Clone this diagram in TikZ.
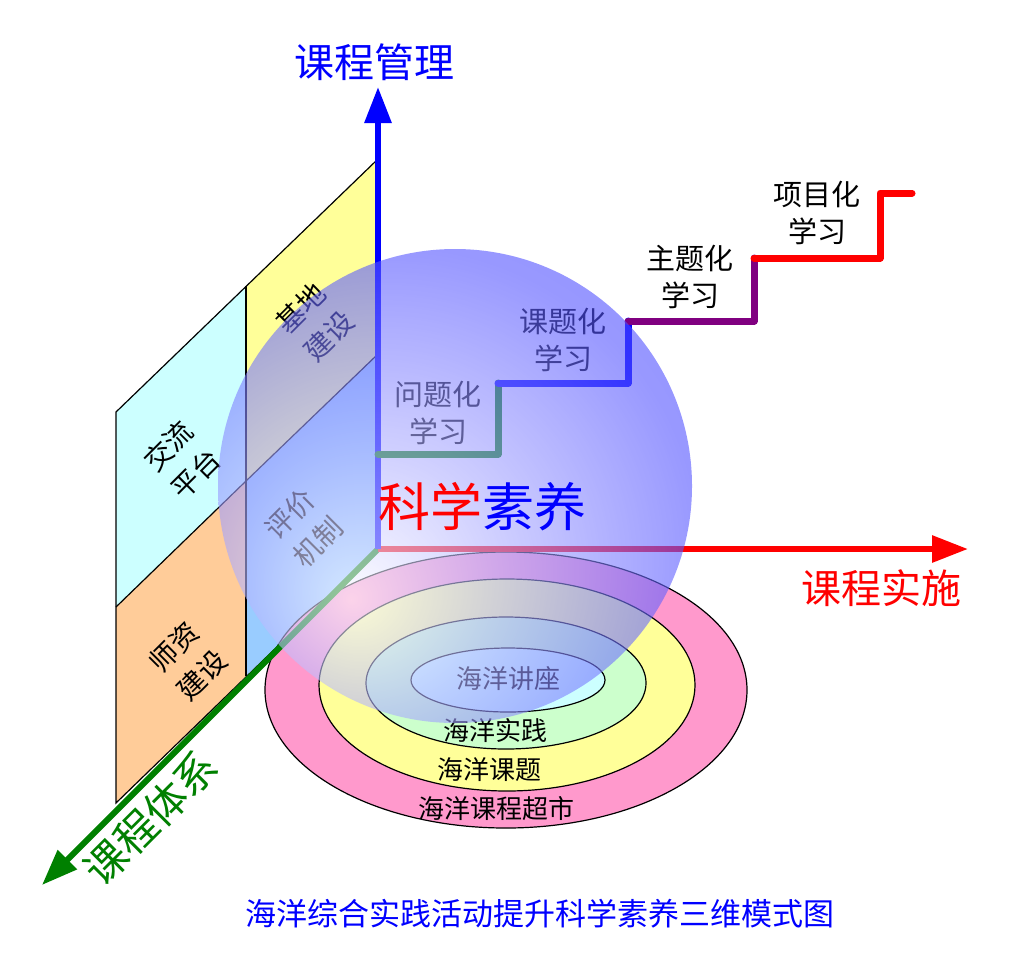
\documentclass[tikz,border=0pt]{standalone}
\usepackage{fontspec}
\setmainfont{Noto Sans CJK SC}
\usetikzlibrary{arrows.meta}
\definecolor{pyellow}{RGB}{255,255,153}
\definecolor{pcyan}{RGB}{204,255,255}
\definecolor{porange}{RGB}{255,204,153}
\definecolor{pblue}{RGB}{153,204,255}
\definecolor{rpink}{RGB}{255,153,204}
\definecolor{rgreen}{RGB}{204,255,204}
\definecolor{axgreen}{RGB}{0,128,0}
\definecolor{stpurple}{RGB}{128,0,128}
\definecolor{spA}{RGB}{250,250,255}
\definecolor{spB}{RGB}{180,180,255}
\definecolor{spC}{RGB}{85,85,255}
\definecolor{spD}{RGB}{45,45,255}
\pgfdeclareradialshading{spherebl}{\pgfpoint{-11bp}{-12bp}}{color(0bp)=(spA); color(13bp)=(spB); color(32bp)=(spC); color(52bp)=(spD); color(80bp)=(spD)}
\begin{document}
\begin{tikzpicture}[x=1pt,y=-1pt]
\tikzset{
  panel/.style={draw=black, line width=1.2pt},
  ring/.style={draw=black, line width=1.2pt},
  axisline/.style={line width=6pt, -{Triangle[length=36pt,width=26pt]}},
  stepline/.style={line width=7pt, line cap=round, line join=round},
  paneltext/.style={rotate=45, align=center, inner sep=0pt, font=\fontsize{28}{39}\selectfont},
  ringtext/.style={inner sep=0pt, font=\fontsize{26}{30}\selectfont},
  steptext/.style={align=center, inner sep=0pt, font=\fontsize{29}{37}\selectfont},
  axislabel/.style={inner sep=0pt, font=\fontsize{40}{44}\selectfont},
}
\useasboundingbox (0,0) rectangle (1024,967);
% panel corners
\coordinate (O) at (378,549);
\coordinate (A1) at (378,159);
\coordinate (B1) at (246,286);
\coordinate (C1) at (116,412);
\coordinate (A2) at (378,354);
\coordinate (B2) at (246,481);
\coordinate (C2) at (116,607);
\coordinate (B3) at (246,676);
\coordinate (C3) at (116,803);
% panels
\fill[pyellow] (A1) -- (A2) -- (B2) -- (B1) -- cycle;
\fill[pblue] (A2) -- (O) -- (B3) -- (B2) -- cycle;
\fill[pcyan] (B1) -- (B2) -- (C2) -- (C1) -- cycle;
\fill[porange] (B2) -- (B3) -- (C3) -- (C2) -- cycle;
\draw[panel] (A1) -- (C1) -- (C3) -- (O) -- cycle;
\draw[panel] (B1) -- (B3);
\draw[panel] (A2) -- (B2) -- (C2);
\node[paneltext] (jd) at (315,322) {基地\\建设};
\node[paneltext] (jl) at (182,460) {交流\\平台};
\node[paneltext] (pj) at (304,528) {评价\\机制};
\node[paneltext] (sz) at (188,661) {师资\\建设};
% rings
\draw[ring, fill=rpink] (506,690) ellipse [x radius=241, y radius=138];
\draw[ring, fill=pyellow] (507,685) ellipse [x radius=188, y radius=106];
\draw[ring, fill=rgreen] (506,683) ellipse [x radius=140, y radius=66];
\draw[ring, fill=pcyan] (508,680) ellipse [x radius=97, y radius=32];
\node[ringtext] (r1) at (508,679) {海洋讲座};
\node[ringtext] (r2) at (495,731) {海洋实践};
\node[ringtext] (r3) at (489,770) {海洋课题};
\node[ringtext] (r4) at (496,809) {海洋课程超市};
% axes
\coordinate (tipV) at (378,87);
\coordinate (tipH) at (968,549);
\coordinate (tipG) at (42,885);
\draw[axisline, axgreen] (O) -- (tipG);
\draw[axisline, red] (O) -- (tipH);
\draw[axisline, blue] (O) -- (tipV);
% steps
\coordinate (S0) at (378,454);
\coordinate (S1) at (498,454);
\coordinate (S2) at (498,383);
\coordinate (S3) at (628,383);
\coordinate (S4) at (628,321);
\coordinate (S5) at (754,321);
\coordinate (S6) at (754,258);
\coordinate (S7) at (880,258);
\coordinate (S8) at (880,193);
\coordinate (S9) at (912,193);
\draw[stepline, axgreen] (S0) -- (S1) -- (S2);
\draw[stepline, blue] (S2) -- (S3) -- (S4);
\draw[stepline, stpurple] (S4) -- (S5) -- (S6);
\draw[stepline, red] (S6) -- (S7) -- (S8) -- (S9);
\node[steptext] (t1) at (438,413) {问题化\\学习};
\node[steptext] (t2) at (563,340) {课题化\\学习};
\node[steptext] (t3) at (690,277) {主题化\\学习};
\node[steptext] (t4) at (817,213) {项目化\\学习};
% sphere
\shade[shading=spherebl, opacity=0.6] (455,486) circle [radius=237];
% labels on top
\node[inner sep=0pt, font=\fontsize{52}{56}\selectfont] (kx) at (482,507) {\textcolor{red}{科学}\textcolor{blue}{素养}};
\node[axislabel, text=blue] (lv) at (374,62) {课程管理};
\node[axislabel, text=red] (lh) at (881,588) {课程实施};
\node[axislabel, text=axgreen, rotate=45, font=\fontsize{42}{46}\selectfont] (lg) at (151,818) {课程体系};
\node[inner sep=0pt, text=blue, font=\fontsize{31}{34}\selectfont] (cap) at (540,914) {海洋综合实践活动提升科学素养三维模式图};
\end{tikzpicture}
\end{document}
